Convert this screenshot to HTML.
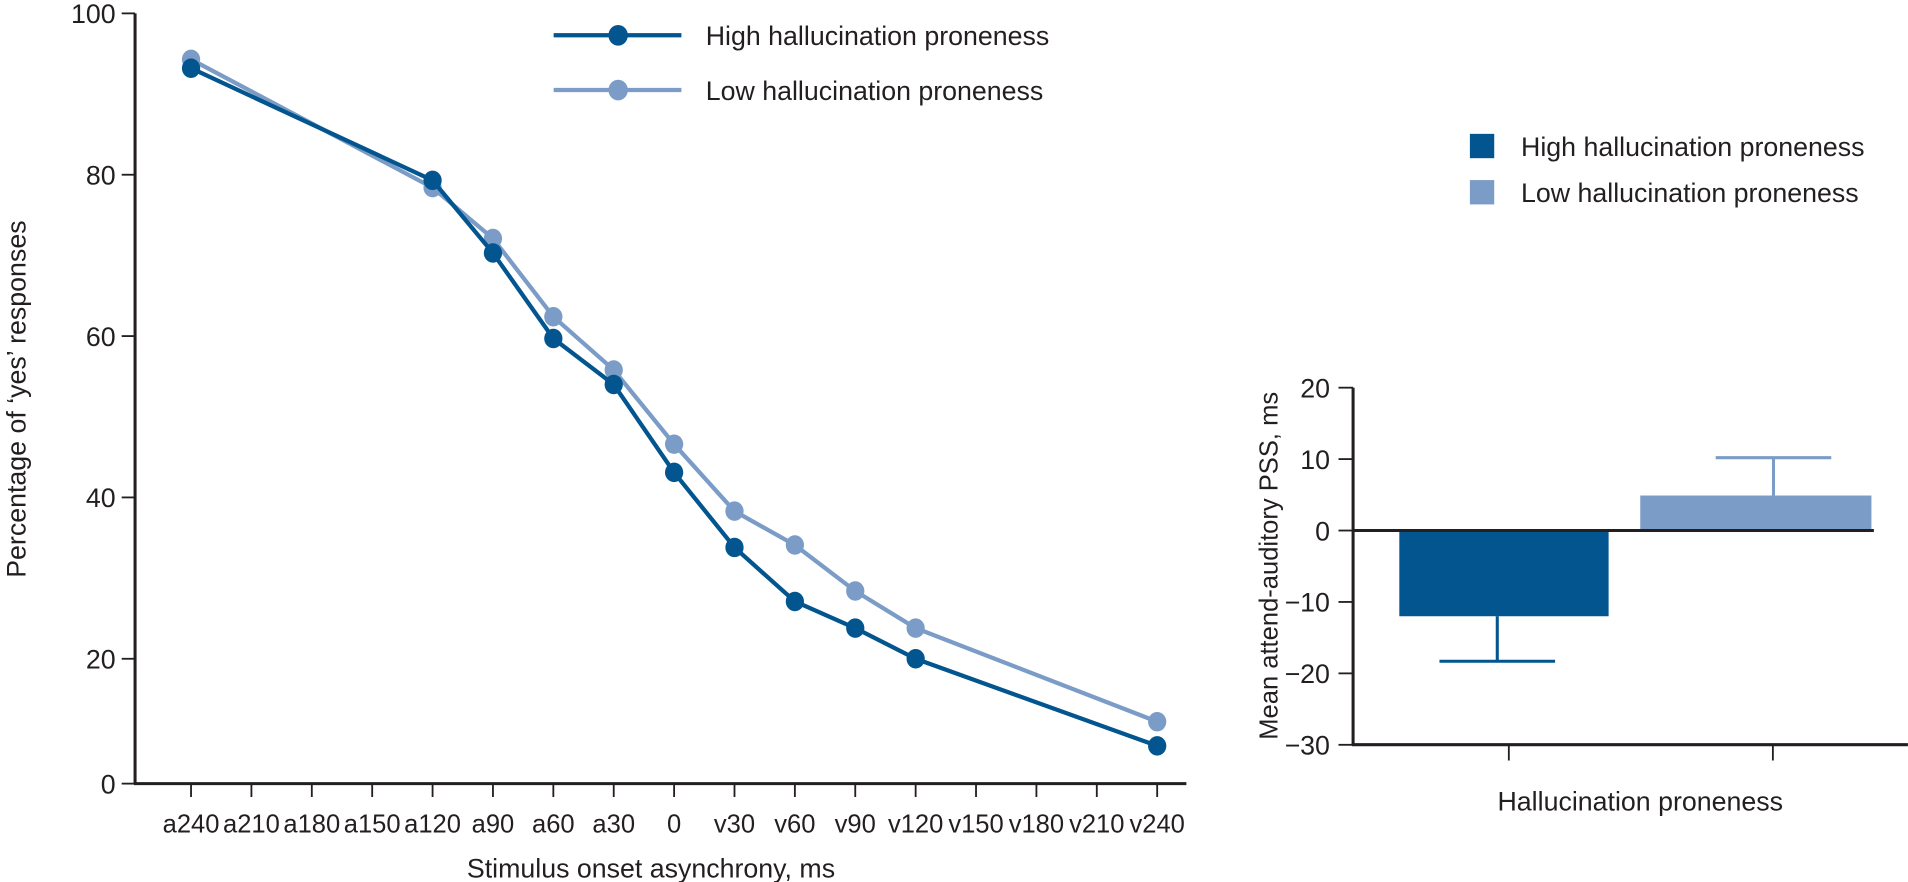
<!DOCTYPE html>
<html><head><meta charset="utf-8"><style>
body{margin:0;background:#fff;}
svg{display:block;font-family:"Liberation Sans",sans-serif;}
</style></head><body>
<svg id="root" width="1908" height="882"><g id="c" transform="scale(1.2168)"></g></svg>
<script>
const categories=["a240","a210","a180","a150","a120","a90","a60","a30","0","v30","v60","v90","v120","v150","v180","v210","v240"];
const highValues=[93.2,null,null,null,79.3,70.3,59.7,54,43.1,33.8,27.1,23.8,20,null,null,null,9.2];
const lowValues=[94.3,null,null,null,78.4,72.1,62.4,55.8,46.6,38.3,34.1,28.4,23.8,null,null,null,12.2];
const yTicks=[20,40,60,80,100];
const barGroups=["High hallucination proneness","Low hallucination proneness"];
const barValues=[-12,4.9];
const barErrors=[-18.3,10.2];
const barTicks=[20,10,0,-10,-20,-30];
const DARK="#02558f",LIGHT="#7b9cc6",INK="#231f20";
const svg=document.getElementById('c');
const NS="http://www.w3.org/2000/svg";
function mk(t,a,txt){const e=document.createElementNS(NS,t);for(const k in a)e.setAttribute(k,a[k]);if(txt!==undefined)e.textContent=txt;svg.appendChild(e);return e;}
const xL=i=>157+i*(951-157)/16;
const yL=v=>674-v*6.63;
let e;
e=mk('line',{x1:111,y1:11,x2:111,y2:644,stroke:INK,'stroke-width':2.5});

e=mk('line',{x1:110,y1:644,x2:975,y2:644,stroke:INK,'stroke-width':2.5});

yTicks.forEach(v=>{
 mk('line',{x1:100,y1:yL(v),x2:111,y2:yL(v),stroke:INK,'stroke-width':1.5});
 e=mk('text',{x:95,y:yL(v)+8,'text-anchor':'end','font-size':22,fill:INK},v);
 
});
mk('line',{x1:100,y1:644,x2:111,y2:644,stroke:INK,'stroke-width':1.5});
e=mk('text',{x:95,y:652,'text-anchor':'end','font-size':22,fill:INK},'0');

categories.forEach((c,i)=>{
 mk('line',{x1:xL(i),y1:644,x2:xL(i),y2:655,stroke:INK,'stroke-width':1.5});
 e=mk('text',{x:xL(i),y:684,'text-anchor':'middle','font-size':21,fill:INK},c);
 
});
e=mk('text',{x:535,y:721,'text-anchor':'middle','font-size':22,fill:INK},'Stimulus onset asynchrony, ms');

e=mk('text',{x:0,y:0,transform:'translate(21,328) rotate(-90)','text-anchor':'middle','font-size':22,fill:INK},"Percentage of \u2018yes\u2019 responses");

function series(vals,col,name){
 const pts=[];vals.forEach((v,i)=>{if(v!==null)pts.push([xL(i),yL(v)]);});
 e=mk('polyline',{points:pts.map(p=>p.join(',')).join(' '),fill:'none',stroke:col,'stroke-width':3.5});
 
 pts.forEach(p=>{e=mk('ellipse',{cx:p[0],cy:p[1],rx:7.5,ry:8,fill:col});
 });
}
series(lowValues,LIGHT,'low-proneness');
series(highValues,DARK,'high-proneness');
[[29,DARK,'High hallucination proneness'],[74,LIGHT,'Low hallucination proneness']].forEach(([y,c,t])=>{
 e=mk('line',{x1:455,y1:y,x2:560,y2:y,stroke:c,'stroke-width':3.5});
 
 mk('ellipse',{cx:508,cy:y,rx:8,ry:8.5,fill:c});
 e=mk('text',{x:580,y:y+8,'font-size':22,fill:INK},t);
 
});
const yR=v=>436-v*5.87;
const barX=[[1150,1322],[1348,1538]];
const capX=[[1183,1278],[1410,1505]];
const cols=[DARK,LIGHT];
barValues.forEach((v,i)=>{
 const y0=Math.min(yR(0),yR(v)),h=Math.abs(yR(v)-yR(0));
 const mid=(capX[i][0]+capX[i][1])/2;
 e=mk('line',{x1:mid,y1:yR(v),x2:mid,y2:yR(barErrors[i]),stroke:cols[i],'stroke-width':2.5});
 
 e=mk('line',{x1:capX[i][0],y1:yR(barErrors[i]),x2:capX[i][1],y2:yR(barErrors[i]),stroke:cols[i],'stroke-width':2.5});
 
 e=mk('rect',{x:barX[i][0],y:y0,width:barX[i][1]-barX[i][0],height:h,fill:cols[i]});
 
});
e=mk('line',{x1:1112,y1:yR(0),x2:1540,y2:yR(0),stroke:INK,'stroke-width':2.5});

e=mk('line',{x1:1112,y1:yR(20),x2:1112,y2:612,stroke:INK,'stroke-width':2.5});

e=mk('line',{x1:1111,y1:612,x2:1568,y2:612,stroke:INK,'stroke-width':2.5});

barTicks.forEach(v=>{
 mk('line',{x1:1100,y1:yR(v),x2:1112,y2:yR(v),stroke:INK,'stroke-width':1.5});
 e=mk('text',{x:1093,y:yR(v)+8,'text-anchor':'end','font-size':22,fill:INK},v<0?'\u2212'+(-v):v);
 
});
[1240,1457].forEach(x=>mk('line',{x1:x,y1:612,x2:x,y2:625,stroke:INK,'stroke-width':1.5}));
e=mk('text',{x:1348,y:666,'text-anchor':'middle','font-size':22,fill:INK},'Hallucination proneness');

e=mk('text',{x:0,y:0,transform:'translate(1050,465) rotate(-90)','text-anchor':'middle','font-size':21,fill:INK},'Mean attend-auditory PSS, ms');

barGroups.forEach((t,i)=>{
 const y=120+i*38;
 e=mk('rect',{x:1208,y:y-10,width:20,height:20,fill:cols[i]});
 
 e=mk('text',{x:1250,y:y+8,'font-size':22,fill:INK},t);
 
});
</script>
</body></html>
